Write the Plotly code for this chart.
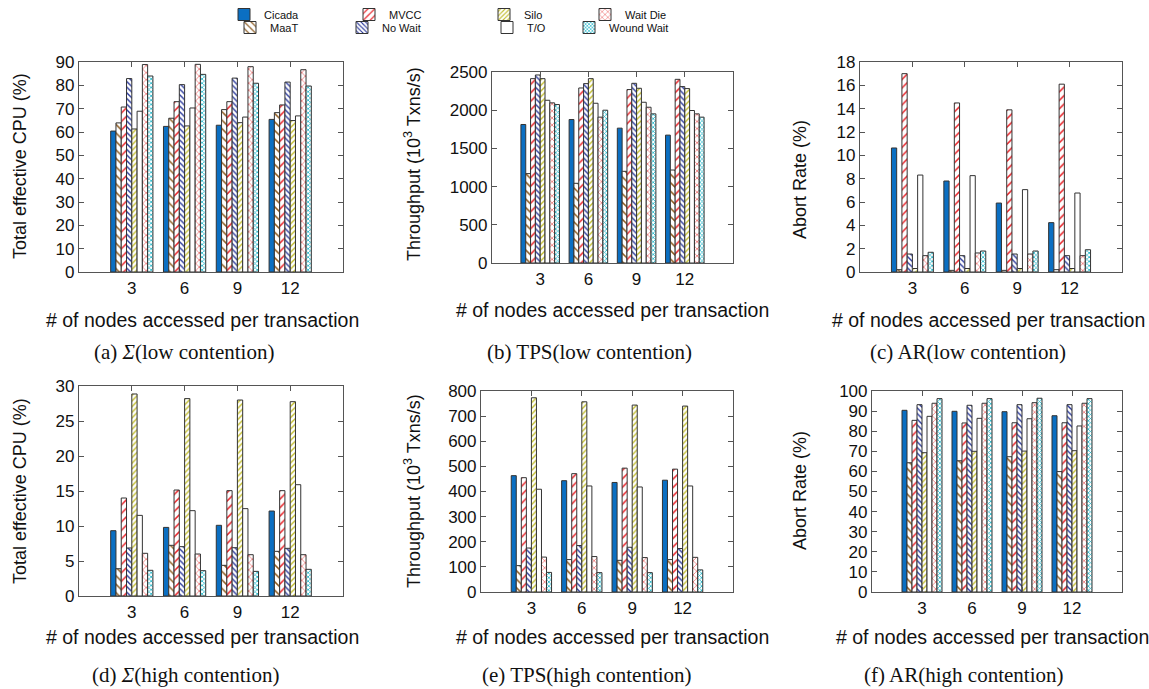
import plotly.graph_objects as go

# ---------------- data ----------------
NODES = ["3", "6", "9", "12"]
SERIES = ["Cicada", "MaaT", "MVCC", "No Wait", "Silo", "T/O", "Wait Die", "Wound Wait"]

# (a) Total effective CPU (%) - low contention
cpu_low_cicada = [60.4, 62.4, 62.9, 65.4]
cpu_low_maat = [63.9, 65.9, 69.6, 68.3]
cpu_low_mvcc = [70.7, 73.0, 73.0, 71.6]
cpu_low_nowait = [82.9, 80.3, 83.1, 81.4]
cpu_low_silo = [61.3, 62.6, 64.0, 64.9]
cpu_low_to = [68.9, 70.3, 66.4, 66.9]
cpu_low_waitdie = [88.9, 89.0, 88.0, 86.7]
cpu_low_woundwait = [84.0, 84.7, 80.9, 79.7]

# (b) Throughput (10^3 Txns/s) - low contention
tps_low_cicada = [1813, 1878, 1765, 1674]
tps_low_maat = [1170, 1043, 1200, 1217]
tps_low_mvcc = [2413, 2291, 2270, 2404]
tps_low_nowait = [2461, 2348, 2352, 2309]
tps_low_silo = [2413, 2413, 2287, 2283]
tps_low_to = [2130, 2091, 2104, 1996]
tps_low_waitdie = [2096, 1909, 2039, 1952]
tps_low_woundwait = [2074, 2000, 1952, 1909]

# (c) Abort rate (%) - low contention
ar_low_cicada = [10.63, 7.8, 5.91, 4.23]
ar_low_maat = [0.2, 0.14, 0.14, 0.2]
ar_low_mvcc = [17.0, 14.49, 13.9, 16.1]
ar_low_nowait = [1.54, 1.4, 1.54, 1.4]
ar_low_silo = [0.3, 0.3, 0.3, 0.3]
ar_low_to = [8.31, 8.26, 7.06, 6.77]
ar_low_waitdie = [1.4, 1.63, 1.54, 1.4]
ar_low_woundwait = [1.69, 1.8, 1.8, 1.91]

# (d) Total effective CPU (%) - high contention
cpu_high_cicada = [9.33, 9.8, 10.1, 12.14]
cpu_high_maat = [3.9, 7.24, 4.38, 6.38]
cpu_high_mvcc = [14.0, 15.14, 15.05, 15.05]
cpu_high_nowait = [6.86, 7.05, 6.9, 6.81]
cpu_high_silo = [28.86, 28.2, 28.0, 27.76]
cpu_high_to = [11.52, 12.19, 12.48, 15.9]
cpu_high_waitdie = [6.1, 6.0, 5.9, 5.9]
cpu_high_woundwait = [3.67, 3.62, 3.52, 3.81]

# (e) Throughput (10^3 Txns/s) - high contention
tps_high_cicada = [463, 443, 436, 445]
tps_high_maat = [105, 129, 126, 129]
tps_high_mvcc = [455, 471, 493, 489]
tps_high_nowait = [175, 185, 178, 173]
tps_high_silo = [773, 757, 744, 740]
tps_high_to = [409, 422, 418, 422]
tps_high_waitdie = [139, 141, 137, 138]
tps_high_woundwait = [78, 77, 77, 88]

# (f) Abort rate (%) - high contention
ar_high_cicada = [90.4, 89.9, 89.7, 87.7]
ar_high_maat = [64.3, 65.3, 67.3, 59.9]
ar_high_mvcc = [85.4, 84.1, 84.2, 84.2]
ar_high_nowait = [93.2, 92.9, 93.2, 93.2]
ar_high_silo = [69.3, 70.0, 70.1, 70.3]
ar_high_to = [87.4, 86.4, 86.2, 82.6]
ar_high_waitdie = [93.9, 93.9, 94.2, 93.9]
ar_high_woundwait = [96.2, 96.2, 96.4, 96.2]

PANELS = [
    [cpu_low_cicada, cpu_low_maat, cpu_low_mvcc, cpu_low_nowait, cpu_low_silo, cpu_low_to, cpu_low_waitdie, cpu_low_woundwait],
    [tps_low_cicada, tps_low_maat, tps_low_mvcc, tps_low_nowait, tps_low_silo, tps_low_to, tps_low_waitdie, tps_low_woundwait],
    [ar_low_cicada, ar_low_maat, ar_low_mvcc, ar_low_nowait, ar_low_silo, ar_low_to, ar_low_waitdie, ar_low_woundwait],
    [cpu_high_cicada, cpu_high_maat, cpu_high_mvcc, cpu_high_nowait, cpu_high_silo, cpu_high_to, cpu_high_waitdie, cpu_high_woundwait],
    [tps_high_cicada, tps_high_maat, tps_high_mvcc, tps_high_nowait, tps_high_silo, tps_high_to, tps_high_waitdie, tps_high_woundwait],
    [ar_high_cicada, ar_high_maat, ar_high_mvcc, ar_high_nowait, ar_high_silo, ar_high_to, ar_high_waitdie, ar_high_woundwait],
]

Y_RANGES = [(0, 90, 10), (0, 2500, 500), (0, 18, 2), (0, 30, 5), (0, 800, 100), (0, 100, 10)]
Y_TITLES = ["Total effective CPU (%)", "Throughput (10<sup>3</sup> Txns/s)", "Abort Rate (%)"] * 2
X_TITLE = "# of nodes accessed per transaction"
CAPTIONS = [
    "(a) <i>Σ</i>(low contention)", "(b) TPS(low contention)", "(c) AR(low contention)",
    "(d) <i>Σ</i>(high contention)", "(e) TPS(high contention)", "(f) AR(high contention)",
]

# ---------------- styles ----------------
W, H = 1149, 689
STYLE = {
    "Cicada": dict(color="#0b6fc2", shape="", size=6, solidity=0.3),
    "MaaT": dict(color="#8c5a1e", shape="\\", size=6, solidity=0.25),
    "MVCC": dict(color="#e8242a", shape="/", size=6, solidity=0.25),
    "No Wait": dict(color="#2b3a9c", shape="\\", size=4, solidity=0.35),
    "Silo": dict(color="#c2bd2e", shape="/", size=4, solidity=0.35),
    "T/O": dict(color="#ffffff", shape="", size=6, solidity=0.3),
    "Wait Die": dict(color="#f07c7c", shape="x", size=5, solidity=0.3),
    "Wound Wait": dict(color="#1fb5c8", shape="x", size=3, solidity=0.45),
}
# legend entry: (left edge of text in px, row centre in px)
LEGEND_POS = {"Cicada": (262, 14), "MaaT": (268, 27), "MVCC": (387, 14), "No Wait": (380, 27),
              "Silo": (522, 14), "T/O": (525, 27), "Wait Die": (623, 14), "Wound Wait": (607, 27)}

# plot areas in pixels: (left, right, top, bottom)
BOXES = [(79, 343, 62, 272), (492, 733, 72, 263), (860, 1122, 62, 272),
         (79, 343, 386, 596), (481, 733, 391, 592), (872, 1122, 391, 592)]


def xd(l, r):
    return [l / W, r / W]


def yd(t, b):
    return [1 - b / H, 1 - t / H]


fig = go.Figure()

for p, panel in enumerate(PANELS):
    xa = "x" if p == 0 else f"x{p + 1}"
    ya = "y" if p == 0 else f"y{p + 1}"
    for s, name in enumerate(SERIES):
        st = STYLE[name]
        marker = dict(color=st["color"], line=dict(color="#333333", width=1))
        if st["shape"]:
            marker["pattern"] = dict(shape=st["shape"], fgcolor=st["color"], bgcolor="white",
                                     size=st["size"], solidity=st["solidity"], fillmode="replace")
        fig.add_trace(go.Bar(
            x=NODES, y=panel[s], name=name, xaxis=xa, yaxis=ya, marker=marker,
            offsetgroup=str(s), legendgroup=name, showlegend=(p == 0),
            legend="legend" if s == 0 else f"legend{s + 1}",
        ))

tick_font = dict(family="Liberation Sans, Arial, sans-serif", size=17, color="#111")
layout = dict(
    width=W, height=H, margin=dict(l=0, r=0, t=0, b=0, autoexpand=False),
    paper_bgcolor="white", plot_bgcolor="white",
    barmode="group", bargap=0.2, bargroupgap=0.0,
    font=dict(family="Liberation Sans, Arial, sans-serif", size=17, color="#111"),
)

for p, (l, r, t, b) in enumerate(BOXES):
    sx = "xaxis" if p == 0 else f"xaxis{p + 1}"
    sy = "yaxis" if p == 0 else f"yaxis{p + 1}"
    ya = "y" if p == 0 else f"y{p + 1}"
    xa = "x" if p == 0 else f"x{p + 1}"
    y0, y1, dt = Y_RANGES[p]
    layout[sx] = dict(domain=xd(l, r), anchor=ya, type="category", range=[-1, 4],
                      showline=True, linecolor="#555", linewidth=1.2, mirror="ticks",
                      ticks="inside", ticklen=5, tickcolor="#555", showgrid=False,
                      tickfont=tick_font, zeroline=False, automargin=False)
    layout[sy] = dict(domain=yd(t, b), anchor=xa, range=[y0, y1], dtick=dt, tick0=0,
                      showline=True, linecolor="#555", linewidth=1.2, mirror="ticks",
                      ticks="inside", ticklen=5, tickcolor="#555", showgrid=False,
                      tickfont=tick_font, zeroline=False, automargin=False)

# one single-entry legend per series, placed like the reference key
leg_common = dict(orientation="v", xanchor="left", yanchor="top", bgcolor="rgba(0,0,0,0)",
                  font=dict(family="Liberation Sans, Arial, sans-serif", size=11, color="#111"),
                  itemwidth=30, tracegroupgap=0)
for s, name in enumerate(SERIES):
    key = "legend" if s == 0 else f"legend{s + 1}"
    tx, cy = LEGEND_POS[name]
    layout[key] = dict(leg_common, x=(tx - 38) / W, y=1 - (cy - 14) / H)

fig.update_layout(**layout)

# axis titles and captions
YT_POS = [(20, 166), (412, 164), (800, 180), (20, 491), (412, 491), (800, 491)]
XT_POS = [(202, 320), (612, 310), (988, 320), (202, 637), (612, 637), (992, 637)]
CAP_POS = [(184, 352), (589, 352), (968, 352), (185, 675), (587, 675), (963, 675)]
ytitle_font = dict(family="Liberation Sans, Arial, sans-serif", size=18, color="#111")
xtitle_font = dict(family="Liberation Sans, Arial, sans-serif", size=19.5, color="#111")
cap_font = dict(family="Liberation Serif, Times New Roman, serif", size=21, color="#111")

for p in range(6):
    xt, yt = YT_POS[p]
    fig.add_annotation(text=Y_TITLES[p], x=xt / W, y=1 - yt / H, xref="paper", yref="paper",
                       textangle=-90, showarrow=False, font=ytitle_font,
                       xanchor="center", yanchor="middle")
    xx, yy = XT_POS[p]
    fig.add_annotation(text=X_TITLE, x=xx / W, y=1 - yy / H, xref="paper", yref="paper",
                       showarrow=False, font=xtitle_font, xanchor="center", yanchor="middle")
    cx, cy = CAP_POS[p]
    fig.add_annotation(text=CAPTIONS[p], x=cx / W, y=1 - cy / H, xref="paper", yref="paper",
                       showarrow=False, font=cap_font, xanchor="center", yanchor="middle")

fig.write_html("out.html", config={"displayModeBar": False},
               post_script="document.body.style.margin='0px';")
